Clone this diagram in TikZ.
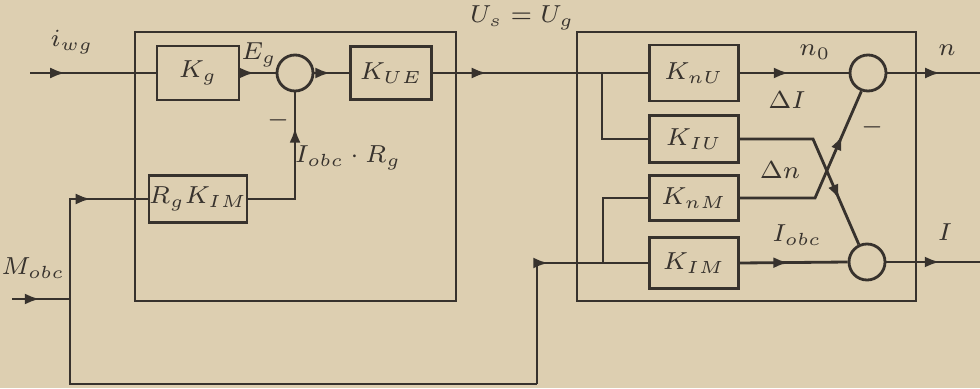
\documentclass[tikz,border=0pt]{standalone}
\usetikzlibrary{arrows.meta,decorations.markings}
\definecolor{paper}{RGB}{221,207,177}
\definecolor{ink}{RGB}{55,50,45}
\newcommand{\lblsize}{\fontsize{7.5}{9}\selectfont}
\tikzset{
  sig/.style={draw=ink, thick},
  block/.style={draw=ink, thick, text=ink, inner sep=0pt, font=\lblsize},
  sum/.style={draw=ink, thick, circle, minimum size=0.36cm, inner sep=0pt},
  midarrow/.style={sig, postaction=decorate,
    decoration={markings, mark=at position #1 with {\arrow{Latex[length=1.5mm,width=1.1mm]}}}},
  midarrow/.default=0.5,
  lbl/.style={text=ink, font=\lblsize},
}
\begin{document}
\begin{tikzpicture}[x=0.01cm, y=-0.01cm]
	% Paper
	\fill[paper] (0,0) rectangle (980,388);
	\useasboundingbox (0,0) rectangle (980,388);

	% Left unit
	\draw[sig] (135,32) rectangle (456,301);
	\node[block, minimum width=0.82cm, minimum height=0.54cm] (kg) at (198,73) {$K_g$};
	\node[sum] (sa) at (295,73) {};
	\node[block, minimum width=0.81cm, minimum height=0.53cm] (kue) at (391,73) {$K_{UE}$};
	\node[block, minimum width=0.83cm, minimum height=0.47cm] (rgkim) at (198,199) {$R_g K_{IM}$};

	% Right unit
	\draw[sig] (577,32) rectangle (916,301);
	\node[block, minimum width=0.89cm, minimum height=0.56cm] (knu) at (694,73) {$K_{nU}$};
	\node[block, minimum width=0.89cm, minimum height=0.47cm] (kiu) at (694,139) {$K_{IU}$};
	\node[block, minimum width=0.89cm, minimum height=0.45cm] (knm) at (694,198) {$K_{nM}$};
	\node[block, minimum width=0.89cm, minimum height=0.51cm] (kim) at (694,263) {$K_{IM}$};
	\node[sum] (sn) at (868,73) {};
	\node[sum] (si) at (867,262) {};

	% Inputs and feedback path
	\coordinate (iwg) at (30,73);
	\coordinate (mobc) at (12,299);
	\coordinate (jm) at (70,299);
	\coordinate (fb) at (537,384);
	\draw[midarrow=0.28] (iwg) -- (kg.west);
	\draw[midarrow=0.48] (mobc) -- (jm);
	\draw[midarrow=0.68] (jm) |- (rgkim.west);
	\draw[sig] (jm) |- (fb);
	\draw[midarrow=0.57] (fb) |- (kim.west);

	% Left unit signals
	\draw[midarrow=0.4] (kg.east) -- (sa.west);
	\draw[midarrow=0.46] (sa.east) -- (kue.west);
	\draw[midarrow=0.77] (rgkim.east) -| (sa.south);
	\draw[midarrow=0.25] (kue.east) -- (knu.west);

	% Branches inside right unit
	\coordinate (bu) at (602,73);
	\coordinate (bm) at (603,263);
	\draw[sig] (bu) |- (kiu.west);
	\draw[sig] (bm) |- (knm.west);

	% Cross-coupling
	\coordinate (xa) at (813,139);
	\coordinate (xb) at (815,198);
	\draw[midarrow=0.45] (knu.east) -- (sn.west);
	\draw[midarrow=0.74] (kiu.east) -- (xa) -- (si.115);
	\draw[midarrow=0.75] (knm.east) -- (xb) -- (sn.250);
	\draw[midarrow=0.45] (kim.east) -- (si.west);

	% Outputs
	\coordinate (nout) at (980,73);
	\coordinate (iout) at (980,262);
	\draw[midarrow=0.57] (sn.east) -- (nout);
	\draw[midarrow=0.57] (si.east) -- (iout);

	% Labels
	\node[lbl] (l-iwg) at (72,42) {$i_{wg}$};
	\node[lbl] (l-eg) at (259,55) {$E_g$};
	\node[lbl] (l-minA) at (278,120) {$-$};
	\node[lbl] (l-iobcrg) at (348,158) {$I_{obc}\cdot R_g$};
	\node[lbl] (l-mobc) at (33,268) {$M_{obc}$};
	\node[lbl] (l-us) at (522,18) {$U_s = U_g$};
	\node[lbl] (l-n0) at (815,52) {$n_0$};
	\node[lbl] (l-di) at (787,100) {$\Delta I$};
	\node[lbl] (l-dn) at (780,170) {$\Delta n$};
	\node[lbl] (l-iobc) at (797,235) {$I_{obc}$};
	\node[lbl] (l-minN) at (872,127) {$-$};
	\node[lbl] (l-n) at (947,50) {$n$};
	\node[lbl] (l-i) at (945,232) {$I$};
\end{tikzpicture}
\end{document}
